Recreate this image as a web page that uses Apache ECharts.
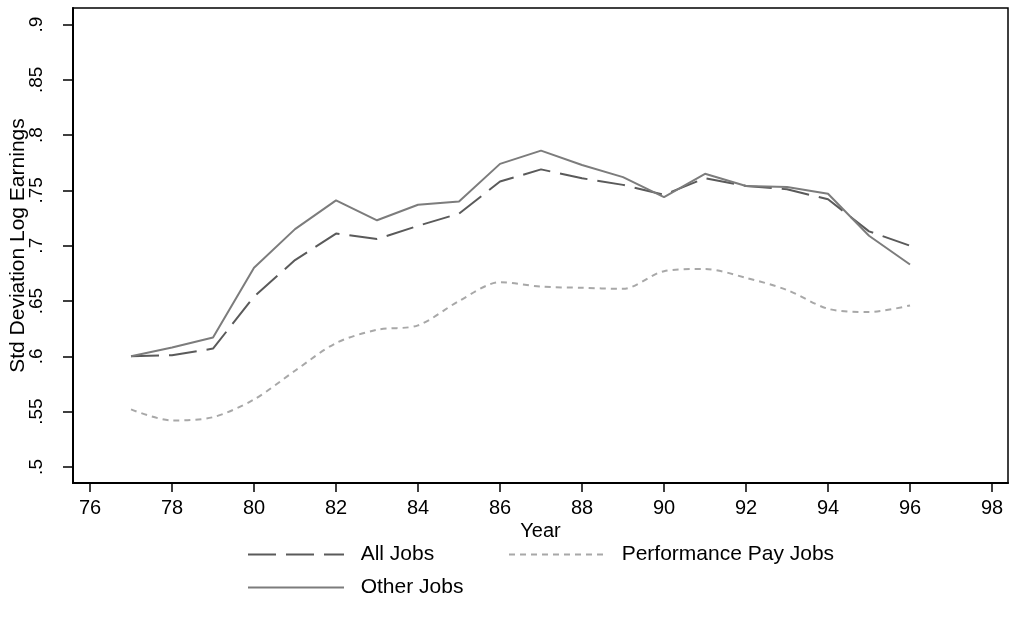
<!DOCTYPE html>
<html>
<head>
<meta charset="utf-8">
<script src="https://cdn.jsdelivr.net/npm/echarts@6/dist/echarts.min.js"></script>
<style>
  html, body { margin: 0; padding: 0; background: #fff; }
  #chart { width: 1009px; height: 637px; }
</style>
</head>
<body>
<div id="chart"></div>
<script>
// Standard deviation of log earnings by year, 1977-1996
const years = [77, 78, 79, 80, 81, 82, 83, 84, 85, 86, 87, 88, 89, 90, 91, 92, 93, 94, 95, 96];
const allJobs = [0.600, 0.601, 0.607, 0.654, 0.687, 0.711, 0.706, 0.718, 0.729, 0.758,
                 0.769, 0.761, 0.755, 0.746, 0.761, 0.754, 0.751, 0.742, 0.713, 0.700];
const perfPayJobs = [0.552, 0.542, 0.545, 0.561, 0.587, 0.612, 0.624, 0.628, 0.650, 0.667,
                     0.663, 0.662, 0.661, 0.677, 0.679, 0.671, 0.660, 0.643, 0.640, 0.646];
const otherJobs = [0.600, 0.608, 0.617, 0.680, 0.715, 0.741, 0.723, 0.737, 0.740, 0.774,
                   0.786, 0.773, 0.762, 0.744, 0.765, 0.754, 0.753, 0.747, 0.709, 0.683];
const xTicks = [76, 78, 80, 82, 84, 86, 88, 90, 92, 94, 96, 98];
const yTicks = [0.5, 0.55, 0.6, 0.65, 0.7, 0.75, 0.8, 0.85, 0.9];

const FONT = "'Liberation Sans', Arial, Helvetica, sans-serif";
const pairs = arr => years.map((y, i) => [y, arr[i]]);

const chart = echarts.init(document.getElementById('chart'), null, { renderer: 'canvas' });

// one legend entry per box: line key 96px wide, label to its right
function legendAt(name, left, top) {
  return {
    show: true,
    data: [name],
    left: left,
    top: top,
    orient: 'horizontal',
    itemWidth: 96,
    itemHeight: 14,
    selectedMode: false,
    itemStyle: { opacity: 0 },
    formatter: n => '  ' + n,
    textStyle: { fontFamily: FONT, fontSize: 21, color: '#000' }
  };
}

chart.setOption({
  animation: false,
  backgroundColor: '#fff',
  grid: {
    left: 73, right: 1, top: 8, bottom: 154,
    outerBoundsMode: 'none',
    containLabel: false,
    show: true, borderColor: '#000', borderWidth: 1.5, backgroundColor: '#fff'
  },
  xAxis: {
    type: 'value',
    min: 75.585, max: 98.39,
    name: 'Year',
    nameLocation: 'middle',
    nameGap: 38,
    nameMoveOverlap: false,
    nameTextStyle: { fontFamily: FONT, fontSize: 20, color: '#000' },
    axisLine: { show: true, onZero: false, lineStyle: { color: '#000', width: 2 } },
    axisTick: { show: true, customValues: xTicks, length: 9, lineStyle: { color: '#000', width: 1.5 } },
    axisLabel: {
      customValues: xTicks, margin: 15,
      fontFamily: FONT, fontSize: 20, color: '#000',
      formatter: v => String(v)
    },
    splitLine: { show: false }
  },
  yAxis: {
    type: 'value',
    min: 0.4855, max: 0.9149,
    name: 'Std Deviation Log Earnings',
    nameLocation: 'middle',
    nameRotate: 90,
    nameGap: 44,
    nameMoveOverlap: false,
    nameTextStyle: { fontFamily: FONT, fontSize: 21, color: '#000' },
    axisLine: { show: true, onZero: false, lineStyle: { color: '#000', width: 2 } },
    axisTick: { show: true, customValues: yTicks, length: 10, lineStyle: { color: '#000', width: 1.5 } },
    axisLabel: {
      customValues: yTicks, rotate: 90, margin: 27,
      fontFamily: FONT, fontSize: 19, color: '#000',
      formatter: v => String(v).replace(/^0/, '')
    },
    splitLine: { show: false }
  },
  legend: [
    legendAt('All Jobs', 242, 539),
    legendAt('Performance Pay Jobs', 503, 539),
    legendAt('Other Jobs', 242, 572)
  ],
  series: [
    {
      name: 'All Jobs', type: 'line', data: pairs(allJobs),
      symbol: 'none', z: 2,
      lineStyle: { color: '#5a5a5a', width: 2, type: [28, 10] },
      itemStyle: { color: '#5a5a5a' }
    },
    {
      name: 'Performance Pay Jobs', type: 'line', data: pairs(perfPayJobs),
      symbol: 'none', smooth: 0.3, z: 2,
      lineStyle: { color: '#a8a8a8', width: 2, type: [6, 5] },
      itemStyle: { color: '#a8a8a8' }
    },
    {
      name: 'Other Jobs', type: 'line', data: pairs(otherJobs),
      symbol: 'none', z: 3,
      lineStyle: { color: '#7c7c7c', width: 2, type: 'solid' },
      itemStyle: { color: '#7c7c7c' }
    }
  ]
});
</script>
</body>
</html>
